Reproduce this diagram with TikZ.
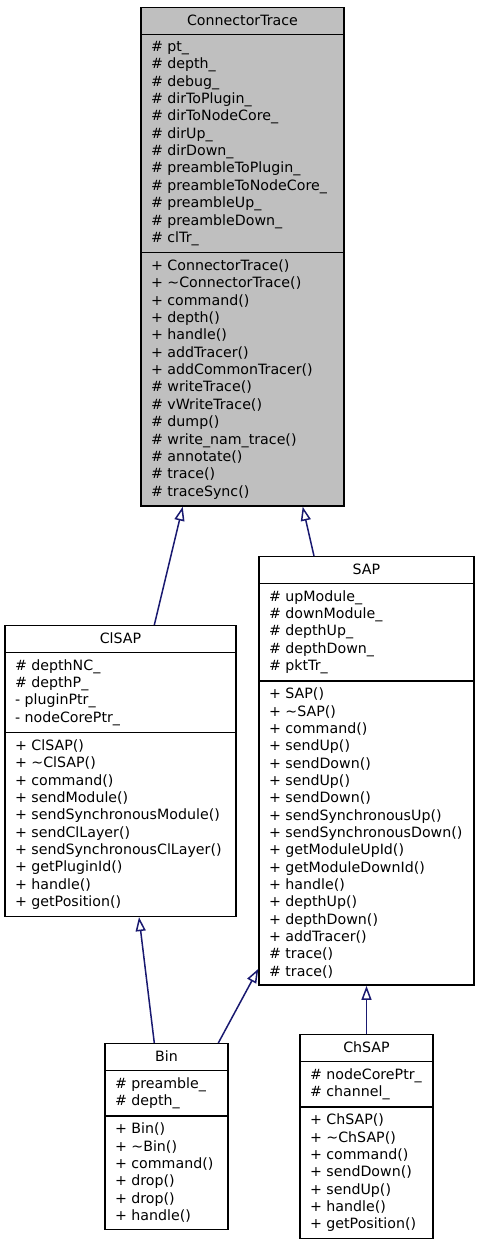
\documentclass[tikz,border=0pt]{standalone}
\usepackage{fontspec}
\setmainfont{DejaVu Sans}
\usetikzlibrary{shapes.multipart, arrows.meta}

\definecolor{basegray}{RGB}{191,191,191}
\definecolor{edgeblue}{RGB}{25,25,112}

\begin{document}
\begin{tikzpicture}[x=1pt, y=-1pt,
    cls/.style={draw, line width=1.4pt, rectangle split, rectangle split parts=3,
      rectangle split part align={center,left,left}, align=left,
      inner xsep=10pt, inner ysep=6.3pt, anchor=north,
      font=\fontsize{14.2}{17.35}\selectfont},
    inh/.style={<-, >={Triangle[open, length=14pt, width=10pt]}, draw=edgeblue, line width=1.5pt}]

  \useasboundingbox (0,0) rectangle (480,1245);

  \node[cls, fill=basegray, minimum width=203] (trace) at (242.5,7) {\vphantom{(}ConnectorTrace
    \nodepart{two}
    \# pt\_\\ \# depth\_\\ \# debug\_\\ \# dirToPlugin\_\\ \# dirToNodeCore\_\\ \# dirUp\_\\
    \# dirDown\_\\ \# preambleToPlugin\_\\ \# preambleToNodeCore\_\\ \# preambleUp\_\\
    \# preambleDown\_\\ \# clTr\_
    \nodepart{three}
    + ConnectorTrace()\\ + \textasciitilde ConnectorTrace()\\ + command()\\ + depth()\\
    + handle()\\ + addTracer()\\ + addCommonTracer()\\ \# writeTrace()\\ \# vWriteTrace()\\
    \# dump()\\ \# write\_nam\_trace()\\ \# annotate()\\ \# trace()\\ \# traceSync()};

  \node[cls, minimum width=231] (clsap) at (120.5,625) {\vphantom{(}ClSAP
    \nodepart{two}
    \# depthNC\_\\ \# depthP\_\\ - pluginPtr\_\\ - nodeCorePtr\_
    \nodepart{three}
    + ClSAP()\\ + \textasciitilde ClSAP()\\ + command()\\ + sendModule()\\
    + sendSynchronousModule()\\ + sendClLayer()\\ + sendSynchronousClLayer()\\
    + getPluginId()\\ + handle()\\ + getPosition()};

  \node[cls, minimum width=215] (sap) at (366.5,556) {\vphantom{(}SAP
    \nodepart{two}
    \# upModule\_\\ \# downModule\_\\ \# depthUp\_\\ \# depthDown\_\\ \# pktTr\_
    \nodepart{three}
    + SAP()\\ + \textasciitilde SAP()\\ + command()\\ + sendUp()\\ + sendDown()\\
    + sendUp()\\ + sendDown()\\ + sendSynchronousUp()\\ + sendSynchronousDown()\\
    + getModuleUpId()\\ + getModuleDownId()\\ + handle()\\ + depthUp()\\
    + depthDown()\\ + addTracer()\\ \# trace()\\ \# trace()};

  \node[cls, minimum width=123] (bin) at (166.5,1043) {\vphantom{(}Bin
    \nodepart{two}
    \# preamble\_\\ \# depth\_
    \nodepart{three}
    + Bin()\\ + \textasciitilde Bin()\\ + command()\\ + drop()\\ + drop()\\ + handle()};

  \node[cls, minimum width=133] (chsap) at (366.5,1034) {\vphantom{(}ChSAP
    \nodepart{two}
    \# nodeCorePtr\_\\ \# channel\_
    \nodepart{three}
    + ChSAP()\\ + \textasciitilde ChSAP()\\ + command()\\ + sendDown()\\ + sendUp()\\
    + handle()\\ + getPosition()};

  % inheritance
  \draw[inh] ([xshift=-59.8pt]trace.south) -- ([xshift=33.8pt]clsap.north);
  \draw[inh] ([xshift=60.2pt]trace.south) -- ([xshift=-52.5pt]sap.north);
  \draw[inh] ([xshift=18.5pt]clsap.south) -- ([xshift=-12.2pt]bin.north);
  \draw[inh] ([yshift=17pt]sap.south west) -- ([xshift=51.8pt]bin.north);
  \draw[inh] (sap.south) -- (chsap.north);
\end{tikzpicture}
\end{document}
